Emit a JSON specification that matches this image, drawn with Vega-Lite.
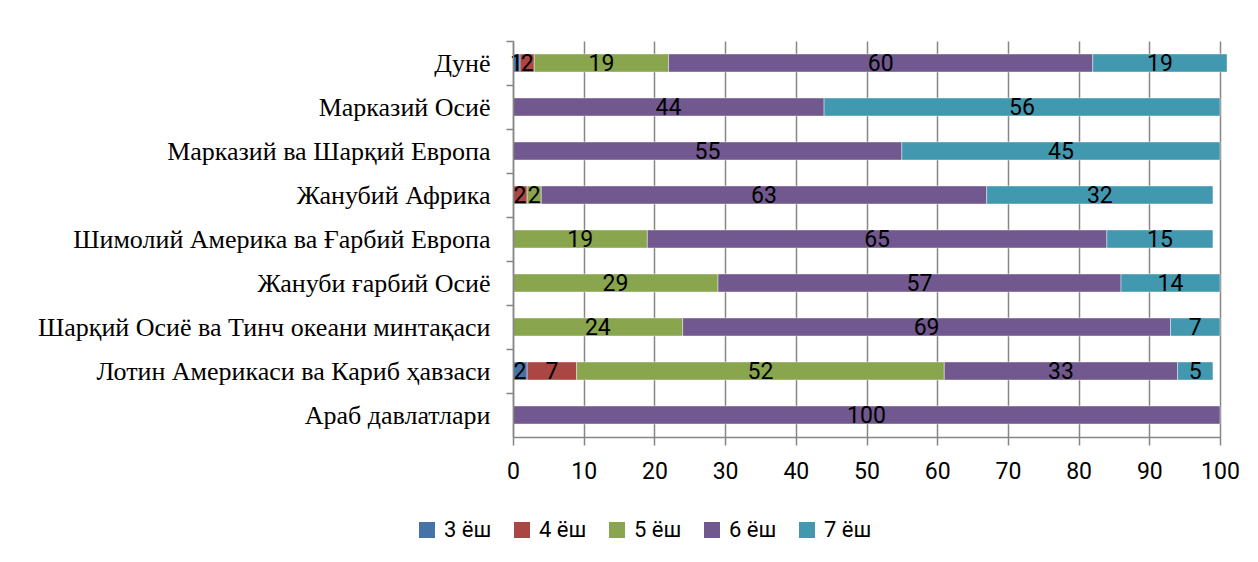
{
  "$schema": "https://vega.github.io/schema/vega-lite/v6.json",
  "autosize": "none",
  "width": 707,
  "height": 396,
  "padding": {"left": 513, "top": 41, "right": 38, "bottom": 125},
  "background": "white",
  "config": {"view": {"stroke": null}},
  "data": {"values": [
    {"region": "Дунё", "age": "3 ёш", "k": 3, "v": 1},
    {"region": "Дунё", "age": "4 ёш", "k": 4, "v": 2},
    {"region": "Дунё", "age": "5 ёш", "k": 5, "v": 19},
    {"region": "Дунё", "age": "6 ёш", "k": 6, "v": 60},
    {"region": "Дунё", "age": "7 ёш", "k": 7, "v": 19},
    {"region": "Марказий Осиё", "age": "6 ёш", "k": 6, "v": 44},
    {"region": "Марказий Осиё", "age": "7 ёш", "k": 7, "v": 56},
    {"region": "Марказий ва Шарқий Европа", "age": "6 ёш", "k": 6, "v": 55},
    {"region": "Марказий ва Шарқий Европа", "age": "7 ёш", "k": 7, "v": 45},
    {"region": "Жанубий Африка", "age": "4 ёш", "k": 4, "v": 2},
    {"region": "Жанубий Африка", "age": "5 ёш", "k": 5, "v": 2},
    {"region": "Жанубий Африка", "age": "6 ёш", "k": 6, "v": 63},
    {"region": "Жанубий Африка", "age": "7 ёш", "k": 7, "v": 32},
    {"region": "Шимолий Америка ва Ғарбий Европа", "age": "5 ёш", "k": 5, "v": 19},
    {"region": "Шимолий Америка ва Ғарбий Европа", "age": "6 ёш", "k": 6, "v": 65},
    {"region": "Шимолий Америка ва Ғарбий Европа", "age": "7 ёш", "k": 7, "v": 15},
    {"region": "Жануби ғарбий Осиё", "age": "5 ёш", "k": 5, "v": 29},
    {"region": "Жануби ғарбий Осиё", "age": "6 ёш", "k": 6, "v": 57},
    {"region": "Жануби ғарбий Осиё", "age": "7 ёш", "k": 7, "v": 14},
    {"region": "Шарқий Осиё ва Тинч океани минтақаси", "age": "5 ёш", "k": 5, "v": 24},
    {"region": "Шарқий Осиё ва Тинч океани минтақаси", "age": "6 ёш", "k": 6, "v": 69},
    {"region": "Шарқий Осиё ва Тинч океани минтақаси", "age": "7 ёш", "k": 7, "v": 7},
    {"region": "Лотин Америкаси ва Кариб ҳавзаси", "age": "3 ёш", "k": 3, "v": 2},
    {"region": "Лотин Америкаси ва Кариб ҳавзаси", "age": "4 ёш", "k": 4, "v": 7},
    {"region": "Лотин Америкаси ва Кариб ҳавзаси", "age": "5 ёш", "k": 5, "v": 52},
    {"region": "Лотин Америкаси ва Кариб ҳавзаси", "age": "6 ёш", "k": 6, "v": 33},
    {"region": "Лотин Америкаси ва Кариб ҳавзаси", "age": "7 ёш", "k": 7, "v": 5},
    {"region": "Араб давлатлари", "age": "6 ёш", "k": 6, "v": 100}
  ]},
  "transform": [
    {"stack": "v", "groupby": ["region"], "sort": [{"field": "k", "order": "ascending"}], "as": ["x0", "x1"]},
    {"calculate": "(datum.x0 + datum.x1) / 2", "as": "mid"}
  ],
  "encoding": {
    "y": {
      "field": "region", "type": "nominal", "sort": null,
      "scale": {"paddingInner": 0.59, "paddingOuter": 0.295},
      "axis": {
        "title": null, "domain": true, "zindex": 1,
        "labelFont": "Liberation Serif", "labelFontSize": 26, "labelColor": "#000000",
        "labelPadding": 16, "tickOffset": -22, "labelOffset": 22,
        "tickSize": 7, "tickColor": "#868686", "tickWidth": 1.5,
        "domainColor": "#868686", "domainWidth": 1.5, "labelLimit": 600
      }
    }
  },
  "layer": [
    {
      "mark": {"type": "bar", "stroke": "#ffffff", "strokeWidth": 0.6, "strokeOpacity": 0.7},
      "encoding": {
        "x": {
          "field": "x0", "type": "quantitative",
          "scale": {"domain": [0, 100], "nice": false},
          "axis": {
            "title": null, "values": [0,10,20,30,40,50,60,70,80,90,100],
            "grid": true, "gridColor": "#868686", "gridWidth": 1.5,
            "domainColor": "#868686", "domainWidth": 1.5,
            "tickColor": "#868686", "tickWidth": 1.5, "tickSize": 8,
            "labelFont": "Roboto", "labelFontSize": 23, "labelColor": "#000000",
            "labelPadding": 15, "labelFlush": false, "labelBaseline": "top"
          }
        },
        "x2": {"field": "x1"},
        "color": {
          "field": "age", "type": "nominal",
          "scale": {"domain": ["3 ёш", "4 ёш", "5 ёш", "6 ёш", "7 ёш"], "range": ["#4572A7", "#AA4643", "#89A54E", "#71588F", "#4198AF"]},
          "legend": {
            "title": null, "orient": "none", "direction": "horizontal",
            "legendX": -97, "legendY": 478,
            "symbolType": "square", "symbolSize": 256, "symbolStrokeWidth": 0,
            "labelFont": "Roboto", "labelFontSize": 22, "labelColor": "#000000",
            "columnPadding": 19, "labelOffset": 6
          }
        }
      }
    },
    {
      "mark": {"type": "text", "font": "Roboto", "fontSize": 23, "color": "#000000", "baseline": "middle", "dy": 1},
      "encoding": {
        "x": {"field": "mid", "type": "quantitative"},
        "text": {"field": "v", "type": "quantitative"}
      }
    }
  ]
}
